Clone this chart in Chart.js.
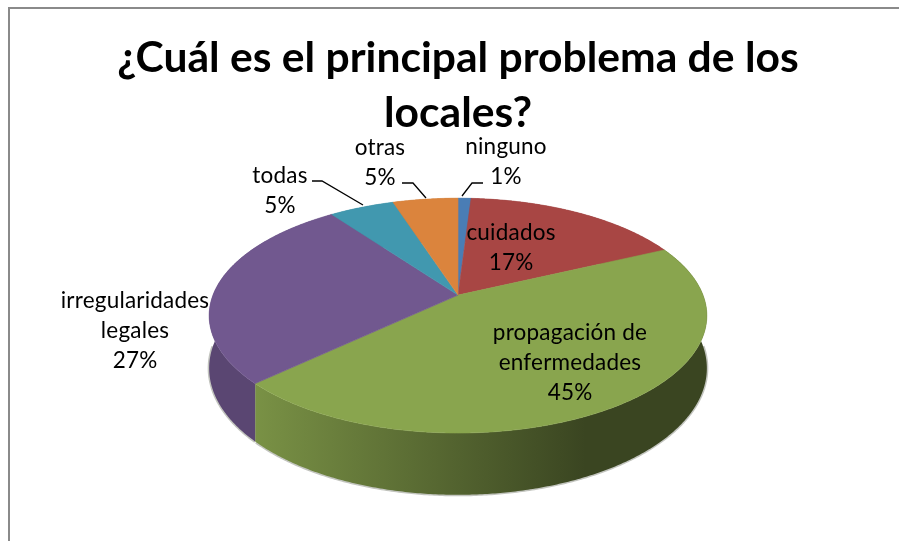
<!DOCTYPE html>
<html><head><meta charset="utf-8">
<style>html,body{margin:0;padding:0;background:#fff}#w{position:relative;width:899px;height:541px;overflow:hidden}canvas{display:block}
#fl{position:absolute;left:8px;top:7px;width:2px;height:534px;background:#8a8a8a}#ft{position:absolute;left:8px;top:7px;right:0;height:2px;background:#8a8a8a}</style>
<script src="https://cdn.jsdelivr.net/npm/chart.js@4"></script></head>
<body><div id="w"><canvas id="c" width="899" height="541"></canvas><div id="fl"></div><div id="ft"></div></div>
<script>
const titleLines = ['¿Cuál es el principal problema de los', 'locales?'];
const categories = ['ninguno', 'cuidados', 'propagación de enfermedades', 'irregularidades legales', 'todas', 'otras'];
const values = [1, 17, 45, 27, 5, 5];
const colors = ['#4a7db5', '#a84644', '#89a54e', '#71588f', '#4198af', '#db843d'];
const labelLines = [['ninguno'], ['cuidados'], ['propagación de', 'enfermedades'], ['irregularidades', 'legales'], ['todas'], ['otras']];
const labelAnchors = [[506, 147], [511, 233], [570, 333], [135, 301], [280, 176], [380, 148]];
const leaders = [[[483,183],[472,183],[462,196]], null, null, null, [[312,181],[322,181],[363,205]], [[402,183],[413,183],[426,198]]];

// perspective applied to the library's arcs (multipliers of the arc's outerRadius)
const SX = 1.5325, SY = 0.712, K = 0.1745, DEPTH = 0.319;
function project(el, ang, drop) {
  const u = Math.cos(ang), v = Math.sin(ang), d = 1 - K * v, R = el.outerRadius;
  return [el.x + SX * R * u / d, el.y + (SY * R * v + (drop ? DEPTH * R : 0)) / d];
}
function shade(hex, f) {
  const n = parseInt(hex.slice(1), 16);
  return `rgb(${Math.round((n>>16&255)*f)},${Math.round((n>>8&255)*f)},${Math.round((n&255)*f)})`;
}
const pie3d = {
  id: 'pie3d',
  beforeDatasetsDraw(chart) {
    const ctx = chart.ctx, arcs = chart.getDatasetMeta(0).data, step = Math.PI / 360;
    ctx.save();
    // soft rim under the side wall
    ctx.strokeStyle = 'rgba(120,125,110,0.45)'; ctx.lineWidth = 3;
    arcs.forEach(el => {
      ctx.beginPath();
      for (let a = Math.max(el.startAngle, 0); a < el.endAngle && a < Math.PI; a += step) ctx.lineTo(...project(el, a, true));
      ctx.stroke();
    });
    // side wall: one polygon per slice, shaded across its width
    arcs.forEach(el => {
      const base = el.options.backgroundColor;
      const R = el.outerRadius, xa = el.x - 1.26 * R, xb = el.x + 0.8 * R;
      const g = ctx.createLinearGradient(xa, 0, xb, 0);
      if (base === colors[2]) { g.addColorStop(0, shade(base, 0.88)); g.addColorStop(1, shade(base, 0.42)); }
      else { g.addColorStop(0, shade(base, 0.8)); g.addColorStop(1, shade(base, 0.8)); }
      ctx.fillStyle = g;
      ctx.beginPath();
      for (let a = el.startAngle; a < el.endAngle; a += step) ctx.lineTo(...project(el, a));
      ctx.lineTo(...project(el, el.endAngle));
      ctx.lineTo(...project(el, el.endAngle, true));
      for (let a = el.endAngle; a > el.startAngle; a -= step) ctx.lineTo(...project(el, a, true));
      ctx.lineTo(...project(el, el.startAngle, true));
      ctx.closePath(); ctx.fill();
    });
    // top face
    arcs.forEach(el => {
      ctx.fillStyle = el.options.backgroundColor;
      ctx.strokeStyle = el.options.backgroundColor;
      ctx.lineWidth = 0.6;
      ctx.beginPath(); ctx.moveTo(el.x, el.y);
      for (let a = el.startAngle; a < el.endAngle; a += step) ctx.lineTo(...project(el, a));
      ctx.lineTo(...project(el, el.endAngle));
      ctx.closePath(); ctx.fill(); ctx.stroke();
    });
    ctx.restore();
    return false;
  },
  afterDraw(chart) {
    const ctx = chart.ctx;
    ctx.save();
    ctx.fillStyle = '#000'; ctx.strokeStyle = '#000'; ctx.lineWidth = 1.3;
    ctx.font = '22.5px Lato'; ctx.letterSpacing = '0.2px'; ctx.textAlign = 'center'; ctx.textBaseline = 'middle';
    categories.forEach((_, i) => {
      const lines = labelLines[i].concat(values[i] + '%');
      lines.forEach((t, j) => ctx.fillText(t, labelAnchors[i][0], labelAnchors[i][1] + j * 30));
      if (leaders[i]) {
        ctx.beginPath();
        leaders[i].forEach((p, j) => j ? ctx.lineTo(p[0], p[1]) : ctx.moveTo(p[0], p[1]));
        ctx.stroke();
      }
    });
    ctx.restore();
  }
};
new Chart(document.getElementById('c'), {
  type: 'pie',
  data: { labels: categories, datasets: [{ data: values, backgroundColor: colors, borderWidth: 0 }] },
  options: {
    responsive: false, animation: false,
    layout: { padding: { left: 20, right: 3, top: 0, bottom: 86 } },
    plugins: {
      legend: { display: false }, tooltip: { enabled: false },
      title: { display: true, text: titleLines, color: '#000', font: { family: 'Lato', size: 42.6, weight: 'bold', lineHeight: 1.282 }, padding: { top: 31, bottom: -5 } }
    }
  },
  plugins: [pie3d]
});
</script></body></html>
